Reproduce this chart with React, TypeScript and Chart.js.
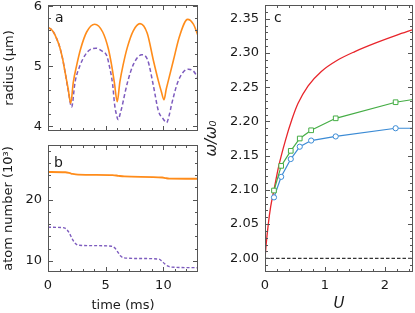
import React, { useEffect, useRef } from "react";
import { Chart, registerables } from "chart.js";

Chart.register(...registerables);

const FONT = "'DejaVu Sans', 'Liberation Sans', sans-serif";
const TEXT = "#1a1a1a";
const FRAME = "#555555";
const ORANGE = "#ff8c1a";
const PURPLE = "#7d5bbe";
const RED = "#e8252b";
const GREEN = "#45ad45";
const BLUE = "#3b8bd5";

// ---------- panel a : radius (µm) vs time (ms) ----------
const timeOrangeA = [0, 0.25, 0.5, 0.75, 1.0, 1.25, 1.5, 1.75, 1.97, 2.19, 2.48, 2.83, 3.35, 4.05, 4.74, 5.23, 5.52, 5.75, 6.0, 6.23, 6.52, 6.87, 7.39, 7.97, 8.6, 9.13, 9.56, 9.82, 10.05, 10.25, 10.43, 10.86, 11.4, 12.1, 12.6, 13.0];
const radiusOrangeA = [5.64, 5.62, 5.56, 5.46, 5.33, 5.14, 4.88, 4.62, 4.38, 4.73, 5.01, 5.29, 5.57, 5.70, 5.57, 5.29, 5.01, 4.73, 4.41, 4.74, 5.03, 5.31, 5.59, 5.71, 5.55, 5.10, 4.76, 4.58, 4.44, 4.62, 4.76, 5.09, 5.50, 5.78, 5.70, 5.51];
const timePurpleA = [0, 0.25, 0.5, 0.75, 1.0, 1.25, 1.5, 1.75, 2.05, 2.34, 2.77, 3.2, 3.6, 4.16, 4.7, 5.08, 5.31, 5.6, 5.78, 5.95, 6.07, 6.3, 6.5, 6.7, 6.93, 7.4, 8.12, 8.64, 9.13, 9.56, 9.99, 10.28, 10.5, 10.72, 11.3, 12.16, 12.6, 13.0];
const radiusPurpleA = [5.64, 5.62, 5.56, 5.46, 5.33, 5.14, 4.88, 4.60, 4.32, 4.73, 5.01, 5.18, 5.27, 5.30, 5.25, 5.18, 5.01, 4.70, 4.35, 4.18, 4.11, 4.24, 4.40, 4.58, 4.76, 5.03, 5.19, 5.10, 4.68, 4.26, 4.12, 4.06, 4.18, 4.37, 4.76, 4.95, 4.92, 4.80];

// ---------- panel b : atom number (10^3) vs time (ms) ----------
const timeOrangeB = [0, 1.5, 2.0, 2.6, 5.6, 6.1, 6.6, 9.9, 10.2, 10.5, 13];
const atomsOrangeB = [24.5, 24.46, 24.25, 24.07, 24.0, 23.88, 23.78, 23.6, 23.5, 23.43, 23.4];
const timePurpleB = [0, 0.7, 1.4, 1.8, 2.1, 2.4, 2.7, 4.0, 5.5, 5.8, 6.05, 6.3, 6.6, 8.0, 9.6, 9.85, 10.1, 10.4, 10.7, 13];
const atomsPurpleB = [15.5, 15.48, 15.4, 14.7, 13.6, 12.8, 12.55, 12.5, 12.4, 12.1, 11.45, 10.8, 10.5, 10.4, 10.3, 10.0, 9.55, 9.15, 9.0, 8.9];

// ---------- panel c : omega/omega0 vs U ----------
const uRed = [0, 0.02, 0.055, 0.094, 0.15, 0.23, 0.34, 0.45, 0.55, 0.72, 0.94, 1.2, 1.5, 1.86, 2.2, 2.47];
const omegaRed = [2.0, 2.021, 2.05, 2.075, 2.1, 2.135, 2.172, 2.203, 2.226, 2.252, 2.273, 2.289, 2.302, 2.315, 2.326, 2.334];
const uGreen = [0.15, 0.27, 0.43, 0.58, 0.77, 1.18, 2.18, 2.47];
const omegaGreen = [2.099, 2.135, 2.157, 2.175, 2.187, 2.2045, 2.228, 2.232];
const uBlue = [0.15, 0.27, 0.43, 0.58, 0.77, 1.18, 2.18, 2.47];
const omegaBlue = [2.089, 2.119, 2.145, 2.163, 2.172, 2.178, 2.19, 2.19];
const markerCount = 7; // measured points; the last entry only continues the line
const uBase = [0, 2.47];
const omegaBase = [2.0, 2.0];

// ---------- tick labels ----------
const radiusTicks = [4, 5, 6];
const atomTicks = [10, 20];
const timeTicks = [0, 5, 10];
const omegaTicks = [2.0, 2.05, 2.1, 2.15, 2.2, 2.25, 2.3, 2.35];
const uTicks = [0, 1, 2];

function steps(from: number, to: number, step: number): number[] {
  const out: number[] = [];
  const n = Math.round((to - from) / step);
  for (let i = 0; i <= n; i++) out.push(+(from + i * step).toFixed(6));
  return out;
}

const xy = (xs: number[], ys: number[]) => xs.map((x, i) => ({ x, y: ys[i] }));

const frameTicks = {
  id: "frameTicks",
  afterDatasetsDraw(chart: any, _args: any, opts: any) {
    const { ctx, chartArea } = chart;
    const { left, right, top, bottom } = chartArea;
    const xs = chart.scales.x;
    const ys = chart.scales.y;
    const isMajor = (list: number[], v: number) => list.some((m) => Math.abs(m - v) < 1e-6);
    ctx.save();
    ctx.strokeStyle = FRAME;
    ctx.lineWidth = 1;
    ctx.setLineDash([]);
    ctx.beginPath();
    for (const v of opts.xMinor) {
      const px = Math.round(xs.getPixelForValue(v)) + 0.5;
      if (px < left || px > right) continue;
      const len = isMajor(opts.xMajor, v) ? 5 : 3;
      ctx.moveTo(px, bottom);
      ctx.lineTo(px, bottom - len);
      ctx.moveTo(px, top);
      ctx.lineTo(px, top + len);
    }
    for (const v of opts.yMinor) {
      const py = Math.round(ys.getPixelForValue(v)) + 0.5;
      if (py < top || py > bottom) continue;
      const len = isMajor(opts.yMajor, v) ? 5 : 3;
      ctx.moveTo(left, py);
      ctx.lineTo(left + len, py);
      ctx.moveTo(right, py);
      ctx.lineTo(right - len, py);
    }
    ctx.stroke();
    ctx.strokeRect(left + 0.5, top + 0.5, right - left - 1, bottom - top - 1);
    ctx.restore();
  },
};

function linAxis(o: any) {
  return {
    type: "linear",
    min: o.min,
    max: o.max,
    grid: { display: false, drawTicks: false },
    border: { display: false },
    ticks: {
      display: o.showLabels,
      padding: 6,
      color: TEXT,
      font: { family: FONT, size: 13 },
      autoSkip: false,
      maxRotation: 0,
      callback: (v: any) => (o.fmt ? o.fmt(Number(v)) : String(v)),
    },
    title: o.title
      ? {
          display: true,
          text: o.title,
          color: TEXT,
          font: { family: FONT, size: o.titleSize || 13, style: o.italic ? "italic" : "normal" },
          padding: o.titlePad,
        }
      : { display: false },
    afterBuildTicks: (s: any) => {
      s.ticks = o.ticks.map((v: number) => ({ value: v }));
    },
    afterFit: (s: any) => {
      if (o.vertical) s.width = o.size;
      else s.height = o.size;
      s.paddingTop = 0;
      s.paddingBottom = 0;
      s.paddingLeft = 0;
      s.paddingRight = 0;
    },
  };
}

function baseOptions(padding: any, scales: any, ticksOpts: any) {
  return {
    animation: false,
    responsive: false,
    devicePixelRatio: 1,
    layout: { padding, autoPadding: false },
    plugins: { legend: { display: false }, tooltip: { enabled: false }, frameTicks: ticksOpts },
    scales,
    elements: { point: { radius: 0 } },
  };
}

function cfgA(): any {
  return {
    type: "line",
    data: {
      datasets: [
        { data: xy(timeOrangeA, radiusOrangeA), borderColor: ORANGE, borderWidth: 1.6, cubicInterpolationMode: "monotone", pointRadius: 0, fill: false },
        { data: xy(timePurpleA, radiusPurpleA), borderColor: PURPLE, borderWidth: 1.5, borderDash: [4, 2.5], cubicInterpolationMode: "monotone", pointRadius: 0, fill: false },
      ],
    },
    options: baseOptions(
      { left: 0, top: 5, right: 217, bottom: 182 },
      {
        x: linAxis({ min: 0, max: 13, ticks: timeTicks, showLabels: false, size: 0, vertical: false }),
        y: linAxis({ min: 3.92, max: 6.02, ticks: radiusTicks, showLabels: true, size: 48, vertical: true, title: "radius (μm)", titlePad: { top: 2, bottom: 0 } }),
      },
      { xMajor: timeTicks, xMinor: steps(0, 13, 1), yMajor: radiusTicks, yMinor: steps(4, 6, 0.2) }
    ),
    plugins: [frameTicks],
  };
}

function cfgB(): any {
  return {
    type: "line",
    data: {
      datasets: [
        { data: xy(timeOrangeB, atomsOrangeB), borderColor: ORANGE, borderWidth: 1.8, cubicInterpolationMode: "monotone", pointRadius: 0, fill: false },
        { data: xy(timePurpleB, atomsPurpleB), borderColor: PURPLE, borderWidth: 1.4, borderDash: [3, 2], cubicInterpolationMode: "monotone", pointRadius: 0, fill: false },
      ],
    },
    options: baseOptions(
      { left: 0, top: 145, right: 217, bottom: 0 },
      {
        x: linAxis({ min: 0, max: 13, ticks: timeTicks, showLabels: true, size: 41, vertical: false, title: "time (ms)", titlePad: { top: 0, bottom: 0 } }),
        y: linAxis({ min: 8.2, max: 28.9, ticks: atomTicks, showLabels: true, size: 48, vertical: true, title: "atom number (10³)", titlePad: { top: 1, bottom: 0 } }),
      },
      { xMajor: timeTicks, xMinor: steps(0, 13, 1), yMajor: atomTicks, yMinor: steps(10, 28, 2) }
    ),
    plugins: [frameTicks],
  };
}

function cfgC(): any {
  const markerRadius = (r: number) => (c: any) => (c.dataIndex < markerCount ? r : 0);
  return {
    type: "line",
    data: {
      datasets: [
        { data: xy(uBase, omegaBase), borderColor: "#000000", borderWidth: 1, borderDash: [3.5, 2], pointRadius: 0, fill: false },
        { data: xy(uGreen, omegaGreen), borderColor: GREEN, borderWidth: 1.2, pointStyle: "rect", pointRadius: markerRadius(3.3), pointBorderWidth: 1, pointBorderColor: GREEN, pointBackgroundColor: "#ffffff", fill: false },
        { data: xy(uBlue, omegaBlue), borderColor: BLUE, borderWidth: 1.2, pointStyle: "circle", pointRadius: markerRadius(2.6), pointBorderWidth: 1, pointBorderColor: BLUE, pointBackgroundColor: "#ffffff", fill: false },
        { data: xy(uRed, omegaRed), borderColor: RED, borderWidth: 1.3, cubicInterpolationMode: "monotone", pointRadius: 0, fill: false },
      ],
    },
    options: baseOptions(
      { left: 200, top: 5, right: 2, bottom: 0 },
      {
        x: linAxis({ min: 0, max: 2.47, ticks: uTicks, showLabels: true, size: 41, vertical: false, title: "U", italic: true, titleSize: 15, titlePad: { top: 0, bottom: 0 } }),
        y: linAxis({ min: 1.98, max: 2.37, ticks: omegaTicks, showLabels: true, size: 65, vertical: true, title: "ω/ω₀", italic: true, titleSize: 15, titlePad: { top: 3, bottom: 0 }, fmt: (v: number) => v.toFixed(2) }),
      },
      { xMajor: uTicks, xMinor: steps(0, 2.4, 0.2), yMajor: omegaTicks, yMinor: steps(1.98, 2.37, 0.01) }
    ),
    plugins: [frameTicks],
  };
}

const letterStyle = (left: number, top: number): React.CSSProperties => ({
  position: "absolute",
  left,
  top,
  fontFamily: FONT,
  fontSize: 14,
  lineHeight: "14px",
  color: TEXT,
});

export default function App() {
  const refA = useRef<HTMLCanvasElement>(null);
  const refB = useRef<HTMLCanvasElement>(null);
  const refC = useRef<HTMLCanvasElement>(null);

  useEffect(() => {
    const charts = [
      new Chart(refA.current as HTMLCanvasElement, cfgA()),
      new Chart(refB.current as HTMLCanvasElement, cfgB()),
      new Chart(refC.current as HTMLCanvasElement, cfgC()),
    ];
    return () => charts.forEach((c) => c.destroy());
  }, []);

  const canvasStyle: React.CSSProperties = { position: "absolute", left: 0, top: 0, width: 415, height: 313 };

  return (
    <div style={{ position: "absolute", left: 0, top: 0, width: 415, height: 313, background: "#ffffff", overflow: "hidden" }}>
      <canvas ref={refA} width={415} height={313} style={canvasStyle} />
      <canvas ref={refB} width={415} height={313} style={canvasStyle} />
      <canvas ref={refC} width={415} height={313} style={canvasStyle} />
      <div style={letterStyle(55, 10)}>a</div>
      <div style={letterStyle(54, 155)}>b</div>
      <div style={letterStyle(274, 10)}>c</div>
    </div>
  );
}
